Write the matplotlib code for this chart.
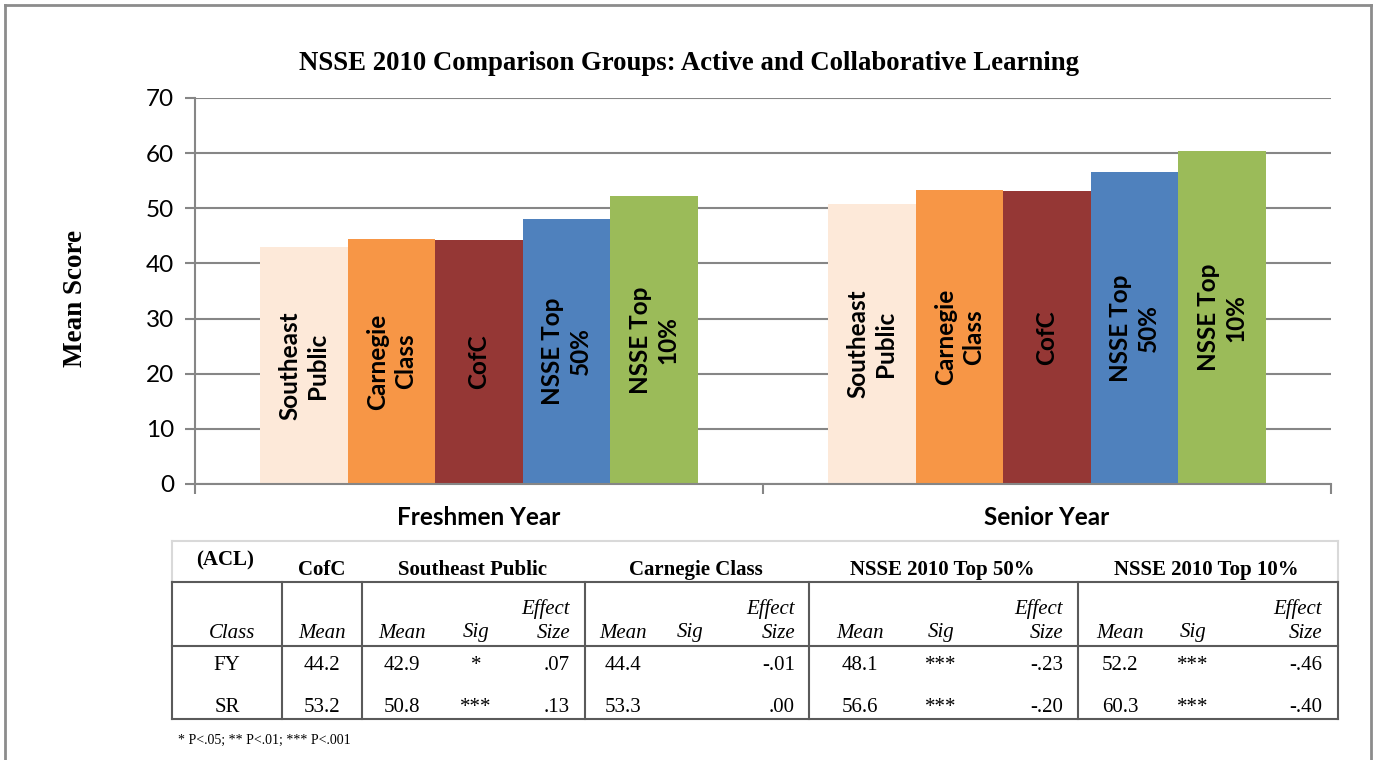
import matplotlib

matplotlib.use("Agg")

import matplotlib.pyplot as plt
import numpy as np
from matplotlib.lines import Line2D

# chart data
years = ["Freshmen Year", "Senior Year"]
groups = ["Southeast\nPublic", "Carnegie\nClass", "CofC", "NSSE Top\n50%", "NSSE Top\n10%"]
colors = ["#fde9d9", "#f79646", "#953735", "#4f81bd", "#9bbb59"]
southeast = [42.9, 50.8]
carnegie = [44.4, 53.3]
cofc = [44.2, 53.2]
top50 = [48.1, 56.6]
top10 = [52.2, 60.3]

# table data
tbl_groups = ["CofC", "Southeast Public", "Carnegie Class", "NSSE 2010 Top 50%", "NSSE 2010 Top 10%"]
row_labels = ["FY", "SR"]
cofc_mean = ["44.2", "53.2"]
se_mean = ["42.9", "50.8"]
se_sig = ["*", "***"]
se_eff = [".07", ".13"]
cc_mean = ["44.4", "53.3"]
cc_sig = ["", ""]
cc_eff = ["-.01", ".00"]
t50_mean = ["48.1", "56.6"]
t50_sig = ["***", "***"]
t50_eff = ["-.23", "-.20"]
t10_mean = ["52.2", "60.3"]
t10_sig = ["***", "***"]
t10_eff = ["-.46", "-.40"]
footnote = "* P<.05; ** P<.01; *** P<.001"

W, H = 1375, 760
SERIF = "Liberation Serif"
SANS = "Lato"
GRID = "#868686"


def fx(x):
    return x / W


def fy(y):
    return 1 - y / H


def hline(fig, x0, x1, y, color, lw=1.5):
    fig.add_artist(Line2D([fx(x0), fx(x1)], [fy(y), fy(y)], color=color, lw=lw,
                          transform=fig.transFigure))


def vline(fig, x, y0, y1, color, lw=1.5):
    fig.add_artist(Line2D([fx(x), fx(x)], [fy(y0), fy(y1)], color=color, lw=lw,
                          transform=fig.transFigure))


def txt(fig, x, y, s, ha="center", **kw):
    fig.text(fx(x), fy(y + 2), s, ha=ha, va="center", family=SERIF, **kw)


fig = plt.figure(figsize=(W / 100, H / 100), dpi=100)
ax = fig.add_axes([fx(195), fy(484), fx(1331) - fx(195), fy(98) - fy(484)])

series = [southeast, carnegie, cofc, top50, top10]
x = np.arange(len(years))
width = 0.77 / len(series)
for i, (vals, col, name) in enumerate(zip(series, colors, groups)):
    pos = x + (i - 2) * width
    ax.bar(pos, vals, width, color=col, zorder=2)
    for p, v in zip(pos, vals):
        ax.text(p, v / 2, name, rotation=90, ha="center", va="center",
                family=SANS, fontsize=17.5, fontweight="bold", linespacing=1.25, zorder=3)

ax.set_xlim(-0.5, 1.5)
ax.set_ylim(0, 70)
ax.set_yticks(np.arange(0, 71, 10))
ax.yaxis.grid(True, color=GRID, lw=1.5, zorder=0)
ax.set_axisbelow(True)
for s in ["top", "right"]:
    ax.spines[s].set_visible(False)
for s in ["left", "bottom"]:
    ax.spines[s].set_color(GRID)
    ax.spines[s].set_linewidth(1.5)
ax.set_xticks([-0.5, 0.5, 1.5])
ax.set_xticklabels([])
ax.set_xticks(x, minor=True)
ax.set_xticklabels(years, minor=True, family=SANS, fontsize=17.5, fontweight="bold")
ax.tick_params(axis="x", which="minor", length=0, pad=16)
ax.tick_params(axis="x", which="major", length=7, color=GRID, width=1.5)
ax.tick_params(axis="y", length=7, color=GRID, width=1.5, labelsize=17.5, pad=8)
for lab in ax.get_yticklabels():
    lab.set_family(SANS)

fig.text(fx(689), fy(64), "NSSE 2010 Comparison Groups: Active and Collaborative Learning",
         ha="center", va="center", family=SERIF, fontsize=19.3, fontweight="bold")
fig.text(fx(76), fy(298), "Mean Score", rotation=90, ha="center", va="center",
         family=SERIF, fontsize=19.5, fontweight="bold")

# outer frame
frame = "#8c8c8c"
hline(fig, 5, 1371, 5, frame, 2)
vline(fig, 5, 5, 760, frame, 2)
vline(fig, 1371, 5, 760, frame, 2)

# table lines
light = "#d9d9d9"
dark = "#5a5a5a"
hline(fig, 172, 1338, 541, light)
vline(fig, 172, 541, 582, light)
vline(fig, 1338, 541, 582, light)
for yy in [582, 646, 719]:
    hline(fig, 172, 1338, yy, dark)
for xx in [172, 282, 362, 585, 809, 1078, 1338]:
    vline(fig, xx, 582, 719, dark)

# header row
txt(fig, 225, 558, "(ACL)", fontsize=15, fontweight="bold")
for cx, name in zip([322, 472, 696, 942, 1206], tbl_groups):
    txt(fig, cx, 568, name, fontsize=15, fontweight="bold")

# sub header
sub = dict(fontsize=15, style="italic")
txt(fig, 232, 631, "Class", **sub)
txt(fig, 322, 631, "Mean", **sub)
for mx, sx, ex in [(402, 476, 570), (623, 690, 795), (860, 941, 1063), (1120, 1193, 1322)]:
    txt(fig, mx, 631, "Mean", **sub)
    txt(fig, sx, 631, "Sig", **sub)
    txt(fig, ex, 607, "Effect", ha="right", **sub)
    txt(fig, ex, 631, "Size", ha="right", **sub)

# data rows
blocks = [
    (402, 476, 570, se_mean, se_sig, se_eff),
    (623, 690, 795, cc_mean, cc_sig, cc_eff),
    (860, 941, 1063, t50_mean, t50_sig, t50_eff),
    (1120, 1193, 1322, t10_mean, t10_sig, t10_eff),
]
for r, yy in enumerate([663, 705]):
    txt(fig, 227, yy, row_labels[r], fontsize=15)
    txt(fig, 322, yy, cofc_mean[r], fontsize=15)
    for mx, sx, ex, m, s, e in blocks:
        txt(fig, mx, yy, m[r], fontsize=15)
        txt(fig, sx, yy, s[r], fontsize=15)
        txt(fig, ex, yy, e[r], ha="right", fontsize=15)

txt(fig, 178, 738, footnote, ha="left", fontsize=10)

fig.savefig("out.png", dpi=100)
